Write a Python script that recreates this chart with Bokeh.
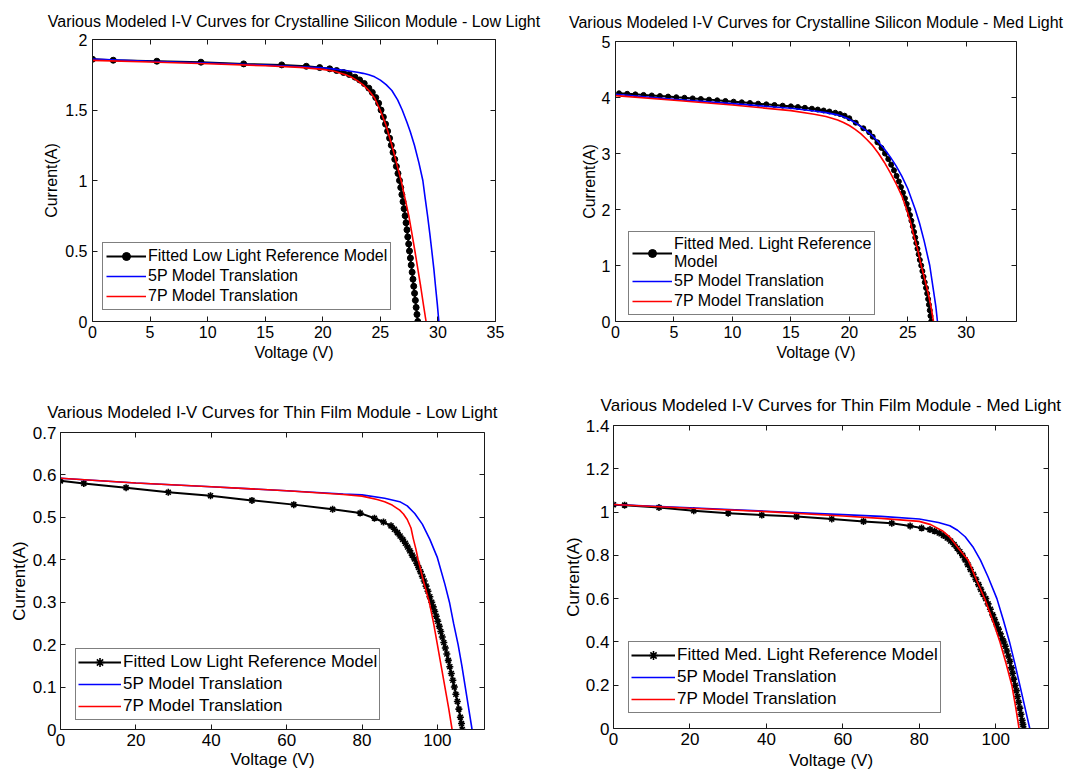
from bokeh.plotting import figure
from bokeh.models import Range1d, LinearAxis, FixedTicker, Legend, LegendItem
from bokeh.layouts import column, row
from bokeh.embed import file_html
from bokeh.resources import INLINE

FONT = "Liberation Sans"
AXC = "#1a1a1a"

# ---------------- Panel A: Crystalline Silicon - Low Light ----------------
a_title = "Various Modeled I-V Curves for Crystalline Silicon Module - Low Light"
a_ref_label = "Fitted Low Light Reference Model"
a_ref_v = [0, 1.80, 5.59, 9.42, 13.13, 16.43, 18.57, 19.73,
           20.6, 21.2, 21.8, 22.3, 22.8, 23.2, 23.6, 24.0, 24.3, 24.6, 24.85,
           25.06, 25.26, 25.45, 25.63, 25.80, 25.95, 26.10, 26.25, 26.39, 26.53, 26.66,
           26.77, 26.87, 26.97, 27.06, 27.15, 27.23, 27.31, 27.38, 27.46, 27.53,
           27.61, 27.68, 27.76, 27.83, 27.90, 27.97, 28.04, 28.11, 28.18, 28.25]
a_ref_i = [1.860, 1.853, 1.846, 1.839, 1.827, 1.820, 1.810, 1.801,
           1.792, 1.780, 1.766, 1.752, 1.733, 1.713, 1.688, 1.655, 1.625, 1.588, 1.548,
           1.50, 1.45, 1.40, 1.35, 1.30, 1.25, 1.20, 1.15, 1.10, 1.05, 1.00,
           0.95, 0.90, 0.85, 0.80, 0.75, 0.70, 0.65, 0.60, 0.55, 0.50,
           0.45, 0.40, 0.35, 0.30, 0.25, 0.20, 0.15, 0.10, 0.05, 0.0]
a_5p_v = [0, 5, 10, 15, 20, 21, 22, 23, 23.5, 24, 24.5, 25, 25.5, 26, 26.5,
          26.9, 27.3, 27.6, 27.96, 28.35, 28.69, 28.9, 29.1, 29.3, 29.47, 29.65, 29.79, 29.95, 30.08]
a_5p_i = [1.862, 1.846, 1.833, 1.818, 1.800, 1.790, 1.780, 1.768, 1.760, 1.750, 1.735, 1.712, 1.680, 1.638, 1.572,
          1.500, 1.415, 1.345, 1.250, 1.125, 1.000, 0.870, 0.750, 0.620, 0.500, 0.370, 0.250, 0.120, 0.0]
a_7p_v = [0, 5, 10, 15, 18, 20, 21, 22, 22.5, 23, 23.5, 24, 24.5, 24.98,
          25.5, 26.0, 26.4, 26.8, 27.15, 27.47, 27.75, 28.0, 28.25, 28.5, 28.75, 28.97]
a_7p_i = [1.852, 1.840, 1.828, 1.814, 1.802, 1.788, 1.775, 1.750, 1.732, 1.708, 1.678, 1.638, 1.585, 1.500,
          1.390, 1.250, 1.125, 1.000, 0.870, 0.750, 0.620, 0.500, 0.375, 0.250, 0.115, 0.0]
a_xticks = [0, 5, 10, 15, 20, 25, 30, 35]
a_xlabels = ["0", "5", "10", "15", "20", "25", "30", "35"]
a_yticks = [0, 0.5, 1, 1.5, 2]
a_ylabels = ["0", "0.5", "1", "1.5", "2"]

# ---------------- Panel B: Crystalline Silicon - Med Light ----------------
b_title = "Various Modeled I-V Curves for Crystalline Silicon Module - Med Light"
b_ref_label = "Fitted Med. Light Reference\nModel"
b_ref_v = [0.3, 1.0, 1.7, 2.4, 3.1, 3.8, 4.5, 5.2, 5.9, 6.6, 7.3, 8.0, 8.7, 9.4, 10.1, 10.8,
           11.5, 12.2, 12.9, 13.6, 14.3, 15.0,
           15.6, 16.2, 16.8, 17.3, 17.8, 18.3, 18.8, 19.2, 19.6, 20.0,
           20.55, 21.2, 21.7,
           22.0, 22.4, 22.75, 23.05, 23.33, 23.58, 23.82, 24.04, 24.24, 24.42, 24.59, 24.76,
           24.91, 25.06, 25.19, 25.31, 25.43, 25.54, 25.64, 25.73, 25.83, 25.93, 26.03, 26.15,
           26.25, 26.35, 26.45, 26.56, 26.66, 26.74, 26.81, 26.88, 26.94, 27.00]
b_ref_i = [4.075, 4.066, 4.056, 4.046, 4.036, 4.026, 4.016, 4.005, 3.995, 3.984, 3.973, 3.962, 3.950, 3.938, 3.926, 3.914,
           3.902, 3.890, 3.878, 3.866, 3.854, 3.842,
           3.830, 3.816, 3.800, 3.785, 3.768, 3.750, 3.728, 3.705, 3.675, 3.630,
           3.55, 3.45, 3.38,
           3.30, 3.20, 3.10, 3.00, 2.90, 2.80, 2.70, 2.60, 2.50, 2.40, 2.30, 2.20,
           2.10, 2.00, 1.90, 1.80, 1.70, 1.60, 1.50, 1.40, 1.30, 1.20, 1.10, 1.00,
           0.90, 0.80, 0.70, 0.60, 0.50, 0.40, 0.30, 0.20, 0.10, 0.00]
b_5p_v = [0, 5, 10, 15, 17, 18, 19, 19.5, 20, 20.5, 21, 21.5, 22, 22.5, 23, 23.5, 24, 24.5, 25,
          25.64, 26.0, 26.4, 26.88, 27.2, 27.4, 27.54]
b_5p_i = [4.057, 3.97, 3.89, 3.807, 3.76, 3.73, 3.69, 3.655, 3.61, 3.55, 3.48, 3.40, 3.31, 3.20, 3.08, 2.94, 2.78, 2.59, 2.37,
          2.0, 1.76, 1.44, 1.0, 0.55, 0.27, 0.0]
b_7p_v = [0, 5, 10, 15, 17, 18, 19, 19.5, 20, 20.5, 21, 21.5, 22, 22.5, 23, 23.5, 24, 24.5,
          24.9, 25.2, 25.5, 25.85, 26.15, 26.45, 26.75, 27.0, 27.2]
b_7p_i = [4.033, 3.95, 3.866, 3.765, 3.70, 3.66, 3.60, 3.555, 3.50, 3.43, 3.35, 3.25, 3.14, 3.00, 2.84, 2.66, 2.46, 2.24,
          2.0, 1.80, 1.55, 1.28, 1.0, 0.76, 0.50, 0.25, 0.0]
b_xticks = [0, 5, 10, 15, 20, 25, 30]
b_xlabels = ["0", "5", "10", "15", "20", "25", "30"]
b_yticks = [0, 1, 2, 3, 4, 5]
b_ylabels = ["0", "1", "2", "3", "4", "5"]

# ---------------- Panel C: Thin Film - Low Light ----------------
c_title = "Various Modeled I-V Curves for Thin Film Module - Low Light"
c_ref_label = "Fitted Low Light Reference Model"
c_ref_v = [0, 6.19, 17.4, 28.6, 39.8, 50.8, 61.9, 72.2, 79.5, 83.3, 85.7,
           87.7, 88.6, 89.4, 90.1, 90.8, 91.5, 92.1, 92.7, 93.3, 93.9, 94.5, 95.0, 95.5, 96.0,
           96.5, 97.0, 97.5, 98.0, 98.5, 98.9, 99.3, 99.7, 100.1, 100.5, 100.9, 101.3, 101.7,
           102.1, 102.5, 102.9, 103.3, 103.7, 104.1, 104.5, 104.9, 105.3, 105.7, 106.1, 106.4, 106.6]
c_ref_i = [0.586, 0.580, 0.570, 0.559, 0.551, 0.540, 0.530, 0.519, 0.510, 0.498, 0.489,
           0.480, 0.472, 0.464, 0.456, 0.448, 0.439, 0.430, 0.421, 0.411, 0.402, 0.392, 0.382, 0.372, 0.361,
           0.350, 0.338, 0.326, 0.313, 0.300, 0.289, 0.278, 0.267, 0.255, 0.243, 0.231, 0.218, 0.205,
           0.192, 0.178, 0.163, 0.148, 0.132, 0.116, 0.100, 0.083, 0.066, 0.048, 0.029, 0.014, 0.000]
c_5p_v = [0, 20, 40, 60, 75, 80, 86, 90, 92, 94, 96, 98, 100, 102, 103.2, 104.3, 105.5, 106.5, 107.4, 108.3, 109.2]
c_5p_i = [0.592, 0.581, 0.572, 0.5626, 0.555, 0.553, 0.545, 0.537, 0.527, 0.509, 0.484, 0.448, 0.405, 0.342,
          0.300, 0.250, 0.200, 0.150, 0.100, 0.050, 0.0]
c_7p_v = [0, 20, 40, 60, 75, 80, 84, 86, 88, 90, 91, 92, 93, 93.6, 94.3, 94.9, 96.3, 97.85, 99.0, 100.0,
          101.0, 102.0, 103.0, 103.9]
c_7p_i = [0.592, 0.581, 0.572, 0.5626, 0.554, 0.550, 0.542, 0.537, 0.529, 0.517, 0.508, 0.495, 0.475, 0.450,
          0.425, 0.400, 0.350, 0.300, 0.250, 0.200, 0.150, 0.100, 0.050, 0.0]
c_xticks = [0, 20, 40, 60, 80, 100]
c_xlabels = ["0", "20", "40", "60", "80", "100"]
c_yticks = [0, 0.1, 0.2, 0.3, 0.4, 0.5, 0.6, 0.7]
c_ylabels = ["0", "0.1", "0.2", "0.3", "0.4", "0.5", "0.6", "0.7"]

# ---------------- Panel D: Thin Film - Med Light ----------------
d_title = "Various Modeled I-V Curves for Thin Film Module - Med Light"
d_ref_label = "Fitted Med. Light Reference Model"
d_ref_v = [0, 2.9, 11.9, 21.0, 30.0, 38.8, 47.9, 57.1, 65.4, 72.8,
           77.6, 80.6, 82.8, 84.0, 85.2, 86.3, 87.3, 88.2, 89.1, 89.9, 90.6,
           91.3, 92.0, 92.7, 93.4, 94.1, 94.8, 95.5, 96.1, 96.7, 97.4, 98.0, 98.6, 99.2, 99.7,
           100.2, 100.7, 101.2, 101.7, 102.1, 102.5, 102.9, 103.3, 103.7, 104.1, 104.4, 104.7,
           105.1, 105.4, 105.7, 106.0, 106.3, 106.6, 106.9, 107.1, 107.3]
d_ref_i = [1.034, 1.032, 1.021, 1.006, 0.995, 0.986, 0.979, 0.968, 0.957, 0.948,
           0.936, 0.926, 0.919, 0.912, 0.903, 0.892, 0.880, 0.866, 0.850, 0.833, 0.817,
           0.800, 0.779, 0.757, 0.735, 0.712, 0.689, 0.665, 0.643, 0.621, 0.600, 0.576, 0.551, 0.525, 0.503,
           0.481, 0.459, 0.437, 0.415, 0.400, 0.380, 0.358, 0.335, 0.310, 0.280, 0.255, 0.228,
           0.200, 0.175, 0.148, 0.121, 0.094, 0.066, 0.038, 0.019, 0.000]
d_5p_v = [0, 20, 40, 60, 70, 80, 85, 88, 90, 92, 94, 96, 98, 100.3, 102.0, 103.6, 105.0, 106.3, 107.6, 108.9]
d_5p_i = [1.035, 1.020, 1.004, 0.988, 0.980, 0.968, 0.952, 0.937, 0.916, 0.886, 0.840, 0.778, 0.700, 0.600,
          0.500, 0.400, 0.300, 0.200, 0.100, 0.0]
d_7p_v = [0, 20, 40, 60, 70, 80, 83, 86, 88, 90, 91.5, 92.8, 95, 97.1, 99.2, 101.1, 102.7, 104.2, 105.2, 106.1]
d_7p_i = [1.035, 1.018, 1.002, 0.982, 0.971, 0.957, 0.942, 0.914, 0.884, 0.838, 0.805, 0.778, 0.685, 0.600,
          0.500, 0.400, 0.300, 0.200, 0.100, 0.0]
d_xticks = [0, 20, 40, 60, 80, 100]
d_xlabels = ["0", "20", "40", "60", "80", "100"]
d_yticks = [0, 0.2, 0.4, 0.6, 0.8, 1, 1.2, 1.4]
d_ylabels = ["0", "0.2", "0.4", "0.6", "0.8", "1", "1.2", "1.4"]

label_5p = "5P Model Translation"
label_7p = "7P Model Translation"
x_title = "Voltage (V)"
y_title = "Current(A)"


def style_axis(ax, ticks, labels, fs, lab_standoff, axlab_standoff, show=True):
    ax.ticker = FixedTicker(ticks=ticks)
    ax.major_tick_in = 5
    ax.major_tick_out = 0
    ax.minor_tick_line_color = None
    ax.axis_line_color = AXC
    ax.major_tick_line_color = AXC
    if show:
        ax.major_label_overrides = dict(zip(ticks, labels))
        ax.major_label_text_font = FONT
        ax.major_label_text_font_size = fs
        ax.major_label_text_color = "black"
        ax.major_label_standoff = lab_standoff
    else:
        ax.major_label_text_font_size = "0px"
        ax.major_label_text_color = None
        ax.major_label_standoff = 0
    ax.axis_label_text_font = FONT
    ax.axis_label_text_font_size = fs
    ax.axis_label_text_font_style = "normal"
    ax.axis_label_text_color = "black"
    ax.axis_label_standoff = axlab_standoff


def build(title, fs, tfs, tstand, W, H, L, R, T, B, xmax, ymax, xticks, xlabels, yticks, ylabels,
          ref_v, ref_i, v5, i5, v7, i7, ref_label, marker, msize, leg_loc, leg_pad,
          glyph_w, label_h, x_st, x_ast, y_st, y_ast):
    p = figure(width=W, height=H, x_range=Range1d(0, xmax), y_range=Range1d(0, ymax),
               output_backend="svg", toolbar_location=None,
               min_border_left=L, min_border_right=R, min_border_top=T, min_border_bottom=B)
    p.background_fill_color = "white"
    p.border_fill_color = "white"
    p.outline_line_color = None
    p.grid.visible = False

    xa = p.below[0]
    ya = p.left[0]
    xa.axis_label = x_title
    ya.axis_label = y_title
    style_axis(xa, xticks, xlabels, fs, x_st, x_ast)
    style_axis(ya, yticks, ylabels, fs, y_st, y_ast)

    # top axis carries the panel title as its label (ticks inward, no tick labels)
    top = LinearAxis(axis_label=title)
    style_axis(top, xticks, xlabels, tfs, 0, tstand, show=False)
    top.axis_label_text_font_size = tfs
    right = LinearAxis()
    style_axis(right, yticks, ylabels, fs, 0, 0, show=False)
    p.add_layout(top, "above")
    p.add_layout(right, "right")

    r_ref = p.line(ref_v, ref_i, line_color="black", line_width=2)
    if marker == "circle":
        r_mk = p.scatter(ref_v, ref_i, marker="circle", size=msize,
                         fill_color="black", line_color="black")
    else:
        r_mk = p.scatter(ref_v, ref_i, marker="asterisk", size=msize,
                         line_color="black", line_width=1.6)
    r5 = p.line(v5, i5, line_color="#0000ff", line_width=1.6)
    r7 = p.line(v7, i7, line_color="#ff0000", line_width=1.6)

    leg = Legend(items=[LegendItem(label=ref_label, renderers=[r_ref, r_mk]),
                        LegendItem(label=label_5p, renderers=[r5]),
                        LegendItem(label=label_7p, renderers=[r7])],
                 location=leg_loc, margin=0, padding=leg_pad, spacing=0,
                 glyph_width=glyph_w, glyph_height=label_h, label_height=label_h,
                 label_standoff=2,
                 label_text_font=FONT, label_text_font_size=fs, label_text_color="black",
                 border_line_color="black", border_line_width=1,
                 background_fill_color="white", background_fill_alpha=1.0)
    p.add_layout(leg)
    return p


# row 1: height 383 ; row 2: height 389 ; columns 545 + 520
pa = build(a_title, "16px", "16px", 10, 545, 383, 92, 50, 39, 62, 35, 2,
           a_xticks, a_xlabels, a_yticks, a_ylabels,
           a_ref_v, a_ref_i, a_5p_v, a_5p_i, a_7p_v, a_7p_i, a_ref_label, "circle", 6,
           (10, 11), 3, 40, 20, 4, 3, 5, 2)
pb = build(b_title, "16px", "16px", 11, 520, 383, 70, 49, 41, 62, 34.3, 5,
           b_xticks, b_xlabels, b_yticks, b_ylabels,
           b_ref_v, b_ref_i, b_5p_v, b_5p_i, b_7p_v, b_7p_i, b_ref_label, "circle", 5,
           (13, 6), 3, 40, 20, 4, 3, 5, 1)
pc = build(c_title, "17px", "16.7px", 11, 545, 389, 60, 61, 49, 43, 112.5, 0.7,
           c_xticks, c_xlabels, c_yticks, c_ylabels,
           c_ref_v, c_ref_i, c_5p_v, c_5p_i, c_7p_v, c_7p_i, c_ref_label, "asterisk", 7,
           (15, 9), 2, 43, 22, 4, 1, 4, 1)
pd = build(d_title, "17px", "17px", 11, 520, 389, 68, 17, 42, 44, 113.8, 1.4,
           d_xticks, d_xlabels, d_yticks, d_ylabels,
           d_ref_v, d_ref_i, d_5p_v, d_5p_i, d_7p_v, d_7p_i, d_ref_label, "asterisk", 7,
           (15, 15), 2, 44, 22, 4, 3, 4, 0)

# each panel wrapped in its own column so the row does not align the plot frames
layout = column(row(column(pa), column(pb)), row(column(pc), column(pd)))
open("out.html", "w").write(file_html(layout, INLINE))
